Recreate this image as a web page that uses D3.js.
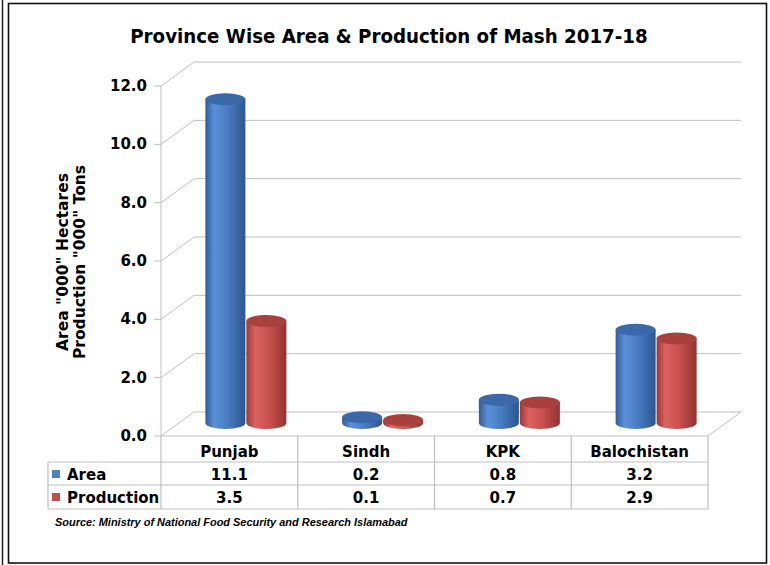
<!DOCTYPE html>
<html><head><meta charset="utf-8">
<script src="https://cdn.jsdelivr.net/npm/d3@7"></script>
<style>body{margin:0;background:#fff}</style></head>
<body><svg id="c" width="770" height="565"></svg>
<script>
const categories = ["Punjab", "Sindh", "KPK", "Balochistan"];
const areaValues = [11.1, 0.2, 0.8, 3.2];
const productionValues = [3.5, 0.1, 0.7, 2.9];
const seriesNames = ["Area", "Production"];
const yTicks = [0, 2, 4, 6, 8, 10, 12];
const titleText = "Province Wise Area & Production of Mash 2017-18";
const yTitleLines = ['Area "000" Hectares', 'Production "000" Tons'];
const sourceText = "Source: Ministry of National Food Security and Research Islamabad";

const seriesValues = [areaValues, productionValues];
const svg = d3.select("#c");
const FONT = "'DejaVu Sans', Verdana, sans-serif";

// frame
svg.append("line").attr("x1", 2.5).attr("x2", 2.5).attr("y1", 0).attr("y2", 565)
  .attr("stroke", "#222").attr("stroke-width", 1.5);
svg.append("rect").attr("x", 8.5).attr("y", 3.5).attr("width", 758).attr("height", 559.5)
  .attr("fill", "#fff").attr("stroke", "#111").attr("stroke-width", 1.6);

// title
const t = svg.append("text").attr("x", 389).attr("y", 43).attr("text-anchor", "middle")
  .attr("font-family", "'DejaVu Sans Condensed', 'DejaVu Sans', sans-serif").attr("font-weight", "bold")
  .attr("font-size", 18).attr("fill", "#000").text(titleText);
{ const L = t.node().getComputedTextLength(); t.attr("font-size", 18 * 518 / L); }

const x = d3.scaleBand().domain(categories).range([161, 708]);
const y = d3.scaleLinear().domain([0, 12]).range([436, 86]);
const DX = 33, DY = -24;
const grid = "#bfbfbf";

const g = svg.append("g");
yTicks.forEach(v => {
  const yy = y(v);
  g.append("path")
    .attr("d", `M${x.range()[0]},${yy} L${x.range()[0] + DX},${yy + DY} L${x.range()[1] + DX},${yy + DY}`)
    .attr("fill", "none").attr("stroke", grid).attr("stroke-width", 1);
  g.append("line").attr("x1", x.range()[0] - 7).attr("x2", x.range()[0]).attr("y1", yy).attr("y2", yy)
    .attr("stroke", grid);
  g.append("text").attr("x", 147).attr("y", yy + 5).attr("text-anchor", "end")
    .attr("font-family", FONT).attr("font-weight", "bold").attr("font-size", 15).attr("fill", "#000")
    .text(d3.format(".1f")(v));
});
g.append("line").attr("x1", x.range()[0]).attr("x2", x.range()[0]).attr("y1", y(0)).attr("y2", y(12)).attr("stroke", grid);
g.append("line").attr("x1", x.range()[1]).attr("y1", y(0)).attr("x2", x.range()[1] + DX).attr("y2", y(0) + DY).attr("stroke", grid);

// y-axis title
yTitleLines.forEach((s, i) => {
  svg.append("text").attr("transform", `translate(${68 + i * 17},262) rotate(-90)`)
    .attr("text-anchor", "middle").attr("font-family", FONT).attr("font-weight", "bold")
    .attr("font-size", 15.5).attr("fill", "#000").text(s);
});

// gradients
const defs = svg.append("defs");
const grads = [
  { id: "gBlue", stops: [["0%", "#2f5c98"], ["22%", "#5b90d8"], ["55%", "#4a7cc2"], ["100%", "#2b5690"]], top: "#3a68a8" },
  { id: "gRed", stops: [["0%", "#9c3835"], ["22%", "#db625f"], ["55%", "#c9524f"], ["100%", "#923331"]], top: "#a8413e" }
];
grads.forEach(gr => {
  const lg = defs.append("linearGradient").attr("id", gr.id).attr("x1", "0%").attr("x2", "100%").attr("y1", "0%").attr("y2", "0%");
  gr.stops.forEach(s => lg.append("stop").attr("offset", s[0]).attr("stop-color", s[1]));
});

// bars (cylinders)
const RX = 20, RY = 6, MIDX = DX / 2, MIDY = -13;
const bars = svg.append("g");
categories.forEach((c, i) => {
  seriesValues.forEach((vals, s) => {
    const cx = x(c) + x.bandwidth() / 2 + MIDX + (s === 0 ? -20.5 : 20.5);
    const base = y(0) + MIDY, top = y(vals[i]) + MIDY;
    bars.append("path")
      .attr("d", `M${cx - RX},${top} L${cx - RX},${base} A${RX},${RY} 0 0 0 ${cx + RX},${base} L${cx + RX},${top} Z`)
      .attr("fill", `url(#${grads[s].id})`);
    bars.append("ellipse").attr("cx", cx).attr("cy", top).attr("rx", RX).attr("ry", RY)
      .attr("fill", grads[s].top);
  });
});

// data table
const tb = svg.append("g");
const tl = 48, r0 = 436, r1 = 462, r2 = 485, r3 = 509;
const tline = (x1, y1, x2, y2) => tb.append("line").attr("x1", x1).attr("y1", y1).attr("x2", x2).attr("y2", y2).attr("stroke", grid).attr("stroke-width", 1.2);
tline(x.range()[0], r0, x.range()[1], r0);
[r1, r2, r3].forEach(r => tline(tl, r, x.range()[1], r));
tline(tl, r1, tl, r3);
categories.forEach(c => tline(x(c), r0, x(c), r3));
tline(x.range()[1], r0, x.range()[1], r3);

const txt = (xx, yy, s, anchor) => tb.append("text").attr("x", xx).attr("y", yy).attr("text-anchor", anchor || "middle")
  .attr("font-family", FONT).attr("font-weight", "bold").attr("font-size", 15).attr("fill", "#000").text(s);
categories.forEach((c, i) => {
  const cx = x(c) + x.bandwidth() / 2;
  txt(cx, 457, c);
  txt(cx, 480, d3.format(".1f")(areaValues[i]));
  txt(cx, 503, d3.format(".1f")(productionValues[i]));
});
const legendColors = ["#4f81bd", "#c0504d"];
seriesNames.forEach((n, s) => {
  const yy = s === 0 ? 480 : 503;
  tb.append("rect").attr("x", 52).attr("y", yy - 10).attr("width", 8).attr("height", 8).attr("fill", legendColors[s]);
  txt(67, yy, n, "start");
});

// source
const st = svg.append("text").attr("x", 55).attr("y", 526)
  .attr("font-family", "'Liberation Sans', Arial, sans-serif").attr("font-style", "italic").attr("font-weight", "bold")
  .attr("font-size", 10).attr("fill", "#000").text(sourceText);
{ const L = st.node().getComputedTextLength(); st.attr("font-size", 10 * 353 / L); }
</script></body></html>
